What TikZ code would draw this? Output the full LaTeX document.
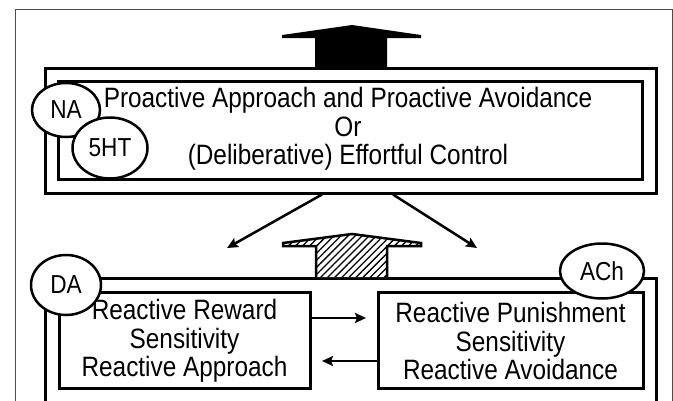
\documentclass[tikz,border=0pt]{standalone}
\usepackage{fontspec}
\setmainfont[FakeStretch=0.87]{Liberation Sans}
\usetikzlibrary{arrows.meta,patterns.meta,shapes.geometric}
\begin{document}
\begin{tikzpicture}[x=1pt,y=-1pt,
  box/.style={draw,line width=3pt,rectangle,inner sep=0pt,fill=white},
  lbl/.style={font=\fontsize{28}{28.5}\selectfont,align=center},
  chem/.style={draw,line width=2.5pt,ellipse,fill=white,inner sep=0pt,font=\fontsize{26}{26}\selectfont},
  conn/.style={line width=2.5pt,-{Stealth[length=11pt,width=10pt,inset=2pt]}},
  bigarrow/.style={line width=2.5pt,line join=miter},
  ]
\useasboundingbox (0,0) rectangle (673,400);
\clip (0,0) rectangle (673,400);
\fill[white] (0,0) rectangle (673,400);
% frame
\draw[gray!60!black, line width=1pt] (15,420) -- (15,9) -- (672,9) -- (672,420);

% upper boxes
\node[box, minimum width=611pt, minimum height=125pt] (upout) at (350.5,130.5) {};
\node[box, minimum width=584pt, minimum height=98pt] (upin) at (350,130) {};
\node[lbl] (uptext) at (348,129) {Proactive Approach and Proactive Avoidance\\Or\\(Deliberative) Effortful Control};
\node[chem, minimum width=68pt, minimum height=54pt] (na) at (66,110) {NA};
\node[chem, minimum width=75pt, minimum height=61pt] (ht) at (110,148) {5HT};

% black arrow on top
\fill[bigarrow] (315,67) -- (315,38) -- (282,38) -- (282,35) -- (352,25) -- (421,35) -- (421,38) -- (387,38) -- (387,67) -- cycle;

% lower outer box (open at bottom)
\node[box, fill=none, minimum width=611pt, minimum height=200pt, anchor=north] (lowout) at (350.5,277) {};

% hatched arrow
\draw[bigarrow, preaction={fill=white}, pattern={Lines[angle=45,distance=5pt,line width=1.3pt]}]
  (316,277) -- (316,246) -- (283,246) -- (283,243) -- (352,234) -- (421,243) -- (421,246) -- (387,246) -- (387,277);

% lower inner boxes
\node[box, minimum width=251pt, minimum height=96pt] (rew) at (184.5,340) {};
\node[lbl] (rewtext) at (184.5,341) {Reactive Reward\\Sensitivity\\Reactive Approach};
\node[box, minimum width=265pt, minimum height=96pt] (pun) at (510.5,340) {};
\node[lbl] (puntext) at (510.5,341) {Reactive Punishment\\Sensitivity\\Reactive Avoidance};
\node[chem, minimum width=70pt, minimum height=60pt] (da) at (66,285) {DA};
\node[chem, minimum width=84pt, minimum height=55pt] (ach) at (602,271) {ACh};

% connectors
\coordinate (dl) at (227,248);
\coordinate (dr) at (477,248);
\draw[conn] (upout.south -| 322,0) -- (dl);
\draw[conn] (upout.south -| 393,0) -- (dr);
\coordinate (ra) at (366,318);
\coordinate (la) at (322,361);
\draw[conn] (rew.east |- 0,318) -- (ra);
\draw[conn] (pun.west |- 0,361) -- (la);
\end{tikzpicture}
\end{document}
